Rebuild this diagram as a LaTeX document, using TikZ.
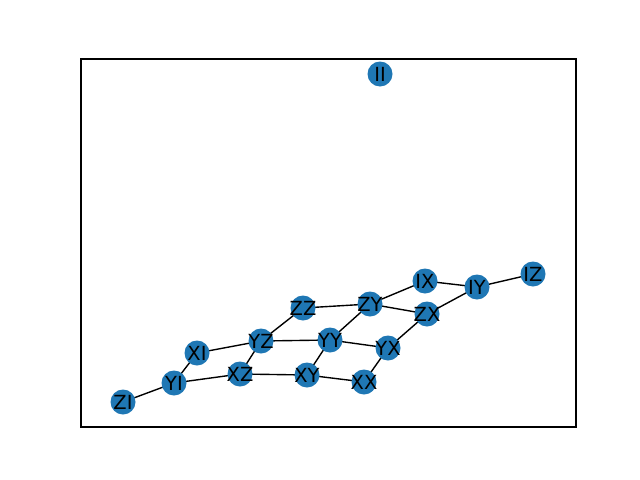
\documentclass[tikz,border=0pt]{standalone}
\usepackage{fontspec}
\setmainfont{DejaVu Sans}
\definecolor{tabblue}{HTML}{1F77B4}
\begin{document}
\begin{tikzpicture}[x=0.72pt,y=-0.72pt,
  vert/.style={circle,fill=tabblue,minimum size=18pt,inner sep=0pt},
  lab/.style={inner sep=0pt,font=\fontsize{14}{16}\selectfont,text=black},
  edge/.style={line width=1pt,black}]
\useasboundingbox (0,0) rectangle (640,480);
\draw[line width=0.8pt] (81,59) rectangle (576,427);
\foreach \n/\x/\y in {II/380/74,IZ/533/274,IY/477/287,IX/425/281,ZY/370/304,ZX/427/314,ZZ/303/308,YZ/261/341,YY/330/340,YX/388/348,XI/197/353,XZ/240/374,XY/307/375,XX/364/382,YI/174/383,ZI/123/402}
  \coordinate (\n) at (\x,\y);
\foreach \a/\b in {ZI/YI,YI/XI,YI/XZ,XI/YZ,YZ/XZ,YZ/ZZ,YZ/YY,XZ/XY,XY/YY,XY/XX,XX/YX,YY/YX,YY/ZY,ZZ/ZY,ZY/IX,ZY/ZX,IX/IY,ZX/IY,ZX/YX,IY/IZ}
  \draw[edge] (\a) -- (\b);
\foreach \n in {II,IZ,IY,IX,ZY,ZX,ZZ,YZ,YY,YX,XI,XZ,XY,XX,YI,ZI}{
  \node[vert] (n\n) at (\n) {};
  \node[lab] (t\n) at (\n) {\n};}
\end{tikzpicture}
\end{document}
